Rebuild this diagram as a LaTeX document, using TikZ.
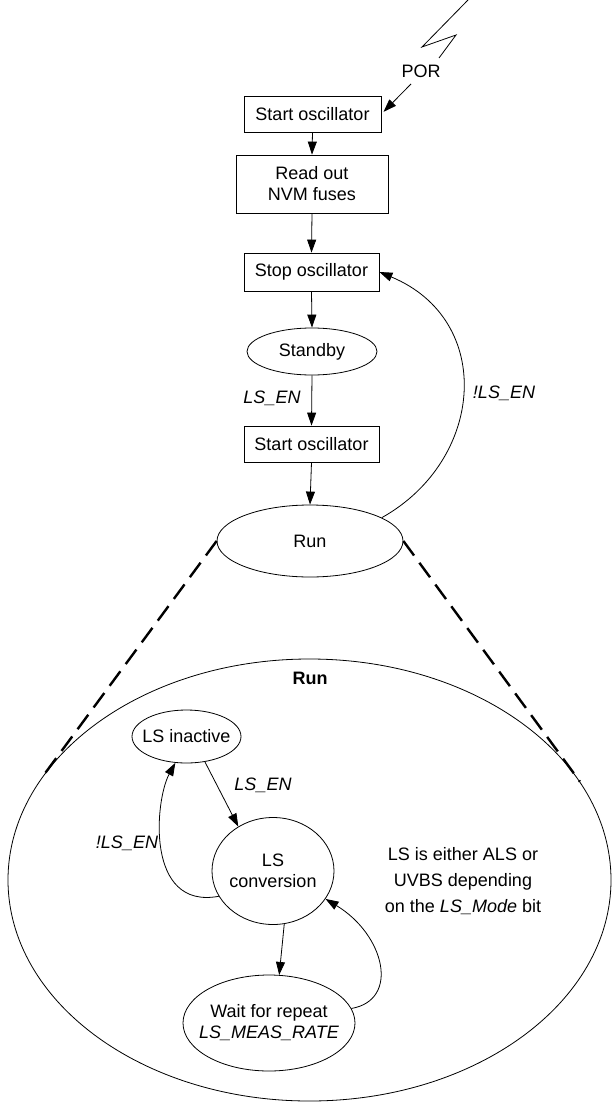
\documentclass[tikz,border=0pt]{standalone}
\usepackage{fontspec}
\setmainfont{Liberation Sans}
\usetikzlibrary{shapes.geometric,arrows.meta}
\begin{document}
\begin{tikzpicture}[x=1pt,y=-1pt,
  font=\fontsize{18}{21}\selectfont,
  line width=0.8pt,
  arr/.style={-{Triangle[length=13pt,width=9pt]}},
  box/.style={draw, rectangle, inner sep=0pt, align=center},
  ell/.style={draw, ellipse, inner sep=0pt},
  lbl/.style={font=\fontsize{18}{21}\selectfont\itshape},
  txt/.style={align=center, inner sep=0pt},
  zoomline/.style={line width=2.4pt, dash pattern=on 18pt off 9pt}
]
\useasboundingbox (0,0) rectangle (612,1102);

% lightning
\draw (468,0) -- (422,47) -- (456,35) -- (439,58);
\node (por) at (421,71) {POR};
\coordinate (porA) at (411,84);

% top chain
\node[box, minimum width=137pt, minimum height=36pt] (so1) at (312.5,114) {Start oscillator};
\node[box, minimum width=152pt, minimum height=58pt] (nvm) at (312,184) {Read out\\NVM fuses};
\node[box, minimum width=135pt, minimum height=38pt] (stop) at (311.5,272) {Stop oscillator};
\node[ell, minimum width=130pt, minimum height=47pt] (standby) at (312,351.5) {};
\node[txt] (standbyT) at (standby) {Standby};
\node[box, minimum width=135pt, minimum height=36pt] (so2) at (311.5,444) {Start oscillator};
\node[ell, minimum width=186pt, minimum height=72pt] (run) at (310,541) {};
\node[txt] (runT) at (run) {Run};

\draw[arr, shorten >=3pt] (porA) -- (so1.east);
\draw[arr] (so1.south) -- (nvm.north);
\draw[arr] (nvm.south) -- (stop.north);
\draw[arr] (stop.south) -- (standby.north);
\draw[arr] (standby.south) -- (so2.north);
\node[lbl] (lsen1) at (272,398) {LS\_EN};
\draw[arr] (so2.south) -- (run.north);

\draw[arr] (run.18) .. controls (485,460) and (495,320) .. (stop.east);
\node[lbl] (nlsen1) at (504,393) {!LS\_EN};

% zoomed Run
\node[ell, minimum width=603pt, minimum height=442pt] (big) at (309.5,880) {};
\node[font=\fontsize{18}{21}\selectfont\bfseries] (bigT) at (310,678) {Run};
\draw[zoomline] (run.west) -- (big.159);
\draw[zoomline] (run.east) -- (big.20);

\node[ell, minimum width=109pt, minimum height=53pt] (inactive) at (186.5,736.5) {};
\node[txt] (inactiveT) at (inactive) {LS inactive};
\node[ell, minimum width=122pt, minimum height=107pt] (conv) at (273,871) {};
\node[txt] (convT) at (conv) {LS\\conversion};
\node[ell, minimum width=172pt, minimum height=96pt] (wait) at (269,1023) {};
\node[txt] (waitT) at (wait) {Wait for repeat\\\textit{LS\_MEAS\_RATE}};

\draw[arr] (inactive.-54) -- (conv.128);
\node[lbl] (lsen2) at (263,785) {LS\_EN};
\draw[arr] (conv.205) .. controls (145,910) and (155,800) .. (inactive.247);
\node[lbl] (nlsen2) at (127,843) {!LS\_EN};
\draw[arr] (conv.-78) -- (wait.78);
\draw[arr] (wait.10) .. controls (400,1000) and (385,935) .. (conv.-28);

\node[txt, font=\fontsize{18}{26}\selectfont] (note) at (463,881)
  {LS is either ALS or\\UVBS depending\\on the \textit{LS\_Mode} bit};
\end{tikzpicture}
\end{document}
